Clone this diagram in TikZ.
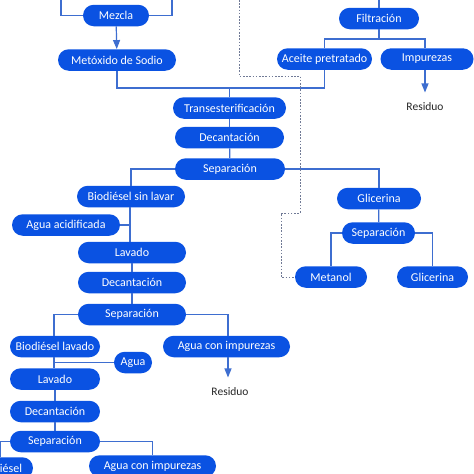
\documentclass[tikz,border=0pt]{standalone}
\usepackage{fontspec}
\setmainfont{Carlito}
\usepackage{xcolor}
\usepackage{tikz}
\usetikzlibrary{arrows.meta, positioning}

\definecolor{boxblue}{RGB}{10,82,226}
\definecolor{lineblue}{RGB}{62,110,208}
\definecolor{dotgray}{RGB}{112,122,150}

\tikzset{
  proc/.style={fill=boxblue, text=white, rounded corners=10.75pt,
    minimum width=#1, minimum height=21.5pt, inner sep=0pt,
    font=\fontsize{12}{14}\selectfont},
  link/.style={draw=lineblue, line width=1.2pt},
  flow/.style={link, -{Triangle[length=9pt,width=7pt]}},
  dots/.style={draw=dotgray, line width=1pt, dash pattern=on 1.6pt off 1.6pt},
  endtext/.style={font=\fontsize{11.5}{13}\selectfont, text=black!85}
}

\begin{document}
\begin{tikzpicture}[x=1pt,y=-1pt]
    \clip (0,0) rectangle (474,474);
    \fill[white] (0,0) rectangle (474,474);

    % top left branch
    \node[proc=66pt] (mezcla) at (116,15.5) {Mezcla};
    \node[proc=118pt] (metox) at (117,60) {Metóxido de Sodio};
    \coordinate (inA) at (61,0);
    \coordinate (inB) at (172,0);

    % top right branch
    \node[proc=80pt] (filtr) at (379,18.5) {Filtración};
    \node[proc=95pt] (aceite) at (324.5,59) {Aceite pretratado};
    \node[proc=93pt] (impur) at (427,59) {Impurezas};
    \node[endtext] (res1) at (425,107) {Residuo};
    \coordinate (inC) at (379,0);

    % main column
    \node[proc=113pt] (trans) at (229.5,108) {Transesterificación};
    \node[proc=109pt] (dec1) at (229.5,137.5) {Decantación};
    \node[proc=110pt] (sep1) at (230,169) {Separación};
    \coordinate (jn) at (117,88);

    % glycerine side
    \node[proc=84pt] (glic1) at (379,198.5) {Glicerina};
    \node[proc=73pt] (sepg) at (378.5,233) {Separación};
    \node[proc=72pt] (metanol) at (331,277) {Metanol};
    \node[proc=71pt] (glic2) at (432.5,277) {Glicerina};

    % first washing
    \node[proc=108pt] (bio1) at (131,196.5) {Biodiésel sin lavar};
    \node[proc=108pt] (aguaac) at (66,225) {Agua acidificada};
    \node[proc=108pt] (lav1) at (132,252.5) {Lavado};
    \node[proc=108pt] (dec2) at (132,282.5) {Decantación};
    \node[proc=108pt] (sep2) at (132,314.5) {Separación};
    \node[proc=90pt] (bio2) at (55,346.5) {Biodiésel lavado};
    \node[proc=38pt] (agua) at (133,362.5) {Agua};
    \node[proc=127pt] (aimp1) at (226.5,346.5) {Agua con impurezas};
    \node[endtext] (res2) at (230,392) {Residuo};

    % second washing
    \node[proc=90pt] (lav2) at (55,379) {Lavado};
    \node[proc=90pt] (dec3) at (55,411.5) {Decantación};
    \node[proc=90pt] (sep3) at (55,441.5) {Separación};
    \node[proc=66pt] (bio3) at (0,468) {Biodiésel};
    \node[proc=127pt] (aimp2) at (152.5,466) {Agua con impurezas};

    % connectors top
    \draw[link] (inA) |- (mezcla.west);
    \draw[link] (inB) |- (mezcla.east);
    \draw[flow] (mezcla) -- (metox);
    \draw[link] (inC) -- (filtr);
    \draw[link] (filtr.south) -- ++(0,9.5) -| (aceite.north);
    \draw[link] (filtr.south) -- ++(0,9.5) -| ([xshift=-2pt]impur.north);
    \draw[flow] ([xshift=-2pt]impur.south) -- ++(0,22.5);
    \draw[link] (metox.south) -- (jn) -- (jn -| aceite.south) -- (aceite.south);
    \draw[link] (trans.north) -- (trans.north |- jn);

    % connectors main
    \draw[link] (trans) -- (dec1);
    \draw[link] (dec1) -- (sep1);
    \draw[link] (sep1.west) -| (bio1.north);
    \draw[link] (sep1.east) -| (glic1.north);
    \draw[link] (glic1) -- (sepg);
    \draw[link] (sepg.west) -| (metanol.north);
    \draw[link] (sepg.east) -| (glic2.north);

    % connectors washing
    \draw[link] (bio1.south -| 130,0) -- (lav1.north -| 130,0);
    \draw[link] (aguaac.east) -- (aguaac.east -| 130,0);
    \draw[link] (lav1) -- (dec2);
    \draw[link] (dec2) -- (sep2);
    \draw[link] (sep2.west) -| ([xshift=-1pt]bio2.north);
    \draw[link] (sep2.east) -| ([xshift=1.5pt]aimp1.north);
    \draw[flow] ([xshift=1.5pt]aimp1.south) -- ++(0,20);
    \draw[link] ([xshift=-1pt]bio2.south) -- ([xshift=-1pt]lav2.north);
    \draw[link] (agua.west) -- (agua.west -| 54,0);
    \draw[link] (lav2) -- (dec3);
    \draw[link] (dec3) -- (sep3);
    \draw[link] (sep3.west) -| (bio3.north);
    \draw[link] (sep3.east) -| (aimp2.north);

    % dotted methanol return
    \draw[dots] (239,0) -- (239,76) -- (300,76) -- (300,213) -- (281,213) -- (281,277) -- (metanol.west);
\end{tikzpicture}
\end{document}
